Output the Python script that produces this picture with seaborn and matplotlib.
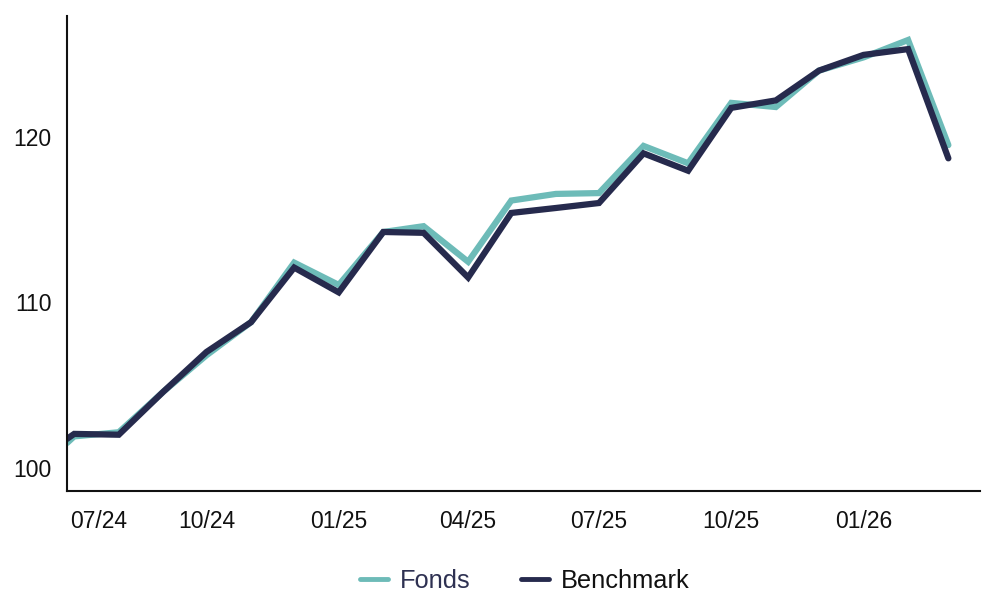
import matplotlib
matplotlib.use("Agg")
import matplotlib.pyplot as plt
import matplotlib.transforms as mtransforms
from matplotlib.lines import Line2D
import seaborn as sns
import pandas as pd

dates = ["2024-06-26", "2024-07-01", "2024-08-01", "2024-09-01", "2024-10-01", "2024-11-01",
         "2024-12-01", "2025-01-01", "2025-02-01", "2025-03-01", "2025-04-01", "2025-05-01",
         "2025-06-01", "2025-07-01", "2025-08-01", "2025-09-01", "2025-10-01", "2025-11-01",
         "2025-12-01", "2026-01-01", "2026-02-01", "2026-03-01"]
fonds = [101.5, 101.9, 102.15, 104.6, 106.8, 108.8, 112.4, 111.05, 114.25, 114.6, 112.45, 116.15,
         116.55, 116.6, 119.45, 118.4, 122.05, 121.8, 124.0, 124.8, 125.85, 119.5]
benchmark = [101.75, 102.05, 102.0, 104.6, 107.0, 108.8, 112.1, 110.6, 114.25, 114.2, 111.5, 115.4,
             115.7, 116.0, 119.0, 117.95, 121.75, 122.2, 124.0, 124.95, 125.3, 118.7]
series_names = ["Fonds", "Benchmark"]
tick_dates = ["2024-07-01", "2024-10-01", "2025-01-01", "2025-04-01", "2025-07-01",
              "2025-10-01", "2026-01-01"]
tick_labels = ["07/24", "10/24", "01/25", "04/25", "07/25", "10/25", "01/26"]
y_ticks = [100, 110, 120]

df = pd.DataFrame({
    "date": pd.to_datetime(dates * 2),
    "value": fonds + benchmark,
    "series": [series_names[0]] * len(dates) + [series_names[1]] * len(dates),
})

sns.set_style("white")
plt.rcParams["font.family"] = ["Liberation Sans", "DejaVu Sans"]

fig = plt.figure(figsize=(9.84, 5.95), dpi=100)
ax = fig.add_axes([67 / 984, 1 - 491 / 595, (980 - 67) / 984, (491 - 16) / 595])

palette = {"Fonds": "#6dbbb8", "Benchmark": "#262a4d"}
sns.lineplot(data=df, x="date", y="value", hue="series", palette=palette,
             linewidth=4.5, ax=ax, legend=False, solid_joinstyle="miter",
             solid_capstyle="round")

ax.set_xlim(pd.Timestamp("2024-06-26"), pd.Timestamp("2026-03-23"))
ax.set_ylim(98.6, 127.3)
ax.set_xticks(pd.to_datetime(tick_dates))
ax.set_xticklabels(tick_labels)
ax.set_yticks(y_ticks)
ax.set_xlabel("")
ax.set_ylabel("")
ax.tick_params(axis="both", length=0, labelsize=16.5, colors="#111111")
ax.tick_params(axis="x", pad=14)
ax.tick_params(axis="y", pad=11)

first = ax.get_xticklabels()[0]
first.set_horizontalalignment("left")
first.set_transform(first.get_transform() + mtransforms.ScaledTranslation(-4 / 100, 0, fig.dpi_scale_trans))

for s in ["top", "right"]:
    ax.spines[s].set_visible(False)
for s in ["left", "bottom"]:
    ax.spines[s].set_color("#111111")
    ax.spines[s].set_linewidth(1.5)

handles = [Line2D([], [], color=palette[n], linewidth=3.5) for n in series_names]
leg = fig.legend(handles, series_names, loc="center", bbox_to_anchor=(525 / 984, 1 - 581 / 595),
                 ncol=2, frameon=False, fontsize=18.3, handlelength=1.1, columnspacing=2.0,
                 handletextpad=0.45)
leg.get_texts()[0].set_color("#2e3152")
leg.get_texts()[1].set_color("#111111")

fig.savefig("out.png", dpi=100)
